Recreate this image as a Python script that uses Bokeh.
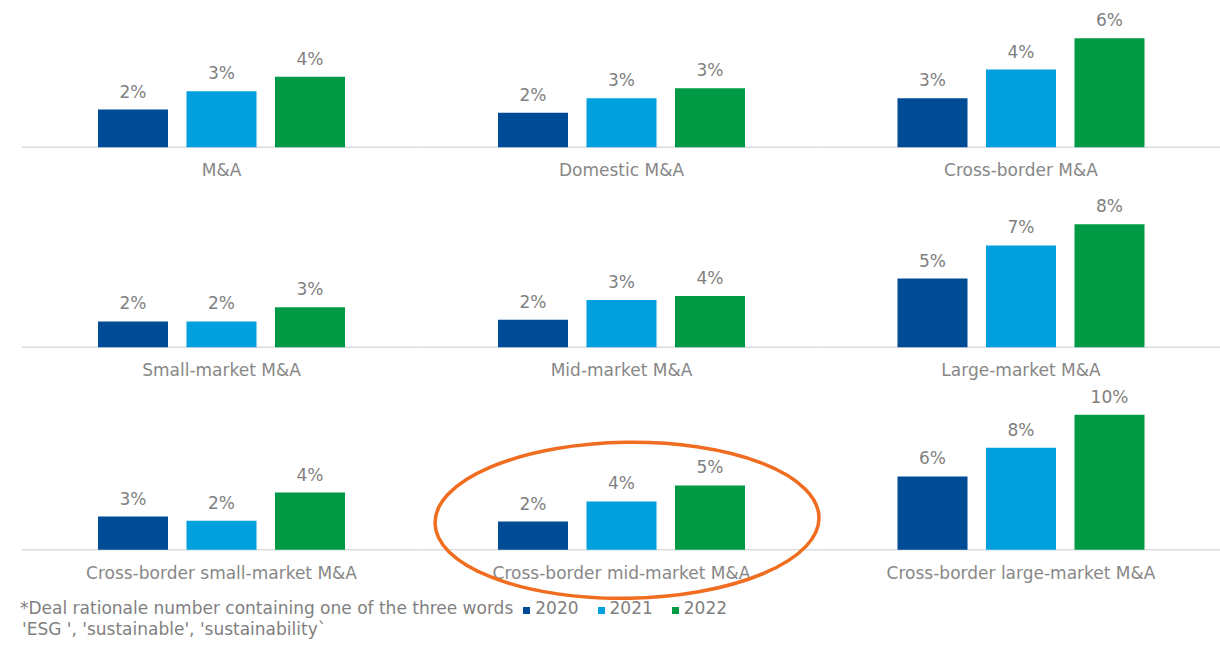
from html import escape

from bokeh.plotting import figure
from bokeh.models import FactorRange, Range1d, Span, ColumnDataSource, Div
from bokeh.layouts import column, row
from bokeh.transform import dodge
from bokeh.core.properties import value
from bokeh.embed import file_html
from bokeh.resources import INLINE

# ---------------- data ----------------
years = ["2020", "2021", "2022"]
year_colors = ["#004B96", "#00A0DE", "#009A44"]

row1_categories = ["M&A", "Domestic M&A", "Cross-border M&A"]
row2_categories = ["Small-market M&A", "Mid-market M&A", "Large-market M&A"]
row3_categories = ["Cross-border small-market M&A", "Cross-border mid-market M&A",
                   "Cross-border large-market M&A"]

# share of deal rationales mentioning ESG words (%), for 2020, 2021, 2022
ma_all = [2.08, 3.09, 3.89]
ma_domestic = [1.90, 2.71, 3.26]
ma_cross_border = [2.71, 4.29, 6.02]
ma_small = [1.77, 1.77, 2.75]
ma_mid = [1.88, 3.25, 3.52]
ma_large = [4.72, 6.99, 8.45]
ma_cb_small = [2.54, 2.21, 4.37]
ma_cb_mid = [2.16, 3.69, 4.91]
ma_cb_large = [5.60, 7.79, 10.31]

highlighted = "Cross-border mid-market M&A"

footnote_line1 = "*Deal rationale number containing one of the three words"
footnote_line2 = "'ESG ', 'sustainable', 'sustainability`"

# ---------------- styling ----------------
FONT = "DejaVu Sans"
VAL_COLOR = "#7f7f7f"
CAT_COLOR = "#878787"
STEP = 88.5          # px between bar centres
BAR_W = 70.0         # px bar width

rows_spec = [
    # categories, values, px per %, fig height, baseline from top
    (row1_categories, [ma_all, ma_domestic, ma_cross_border], 18.1, 186, 146.7),
    (row2_categories, [ma_small, ma_mid, ma_large], 14.55, 200, 160.7),
    (row3_categories, [ma_cb_small, ma_cb_mid, ma_cb_large], 13.1, 214, 163.3),
]
col_widths = [(421, 21), (400, 0), (399, 0)]   # figure width, left border


def make_panel(cat, vals, scale, h, base, w, lb):
    frame_w = w - lb
    xr = FactorRange(*years, range_padding=(frame_w / STEP - 3) / 2,
                     range_padding_units="absolute")
    yr = Range1d(-(h - base) / scale, base / scale)
    p = figure(width=w, height=h, x_range=xr, y_range=yr,
               output_backend="svg", toolbar_location=None,
               x_axis_location=None, y_axis_location=None,
               min_border_left=lb, min_border_right=0,
               min_border_top=0, min_border_bottom=0,
               outline_line_color=None)
    p.grid.visible = False

    p.add_layout(Span(location=0, dimension="width", line_color="#dcdcdc",
                      line_width=1.6, level="underlay"))

    src = ColumnDataSource(dict(
        year=years, val=vals, color=year_colors,
        label=[f"{v:.0f}%" for v in vals]))
    p.vbar(x="year", top="val", bottom=0, width=BAR_W / STEP,
           fill_color="color", line_color=None, source=src)
    p.text(x="year", y="val", text="label", y_offset=-18,
           text_align="center", text_baseline="alphabetic",
           text_font=value(FONT), text_font_size="17px",
           text_color=VAL_COLOR, source=src)
    p.text(x=[years[1]], y=[0], text=[cat], y_offset=23,
           text_align="center", text_baseline="alphabetic",
           text_font=value(FONT), text_font_size="17px",
           text_color=CAT_COLOR)

    if cat == highlighted:
        esrc = ColumnDataSource(dict(x=[years[1]], y=[29.5 / scale]))
        p.ellipse(x=dodge("x", 5.5 / STEP, range=p.x_range), y="y",
                  width=384, height=156, width_units="screen",
                  height_units="screen", angle=0.015,
                  fill_color=None, line_color="#F06C1E", line_width=3.5,
                  source=esrc)
    return p


rows = []
for cats, series, scale, h, base in rows_spec:
    panels = []
    for cat, vals, (w, lb) in zip(cats, series, col_widths):
        panels.append(make_panel(cat, vals, scale, h, base, w, lb))
    rows.append(row(*panels))

legend_html = ""
for i, (yname, col) in enumerate(zip(years, year_colors)):
    ml = 10 if i == 0 else 19
    legend_html += (f'<span style="display:inline-block;width:7px;height:7px;'
                    f'background:{col};margin-left:{ml}px;margin-right:5px;"></span>'
                    f'{yname}')

note = Div(
    text=(f'<div style="font-family:\'{FONT}\';font-size:17px;color:{VAL_COLOR};'
          f'line-height:21px;padding-left:20px;white-space:nowrap;margin-top:-2px;">'
          f'{escape(footnote_line1)}{legend_html}<br>'
          f'<span style="margin-left:2px">{escape(footnote_line2)}</span></div>'),
    width=1220, height=46, margin=(0, 0, 0, 0))

layout = column(*rows, note)

open("out.html", "w").write(file_html(layout, INLINE))
